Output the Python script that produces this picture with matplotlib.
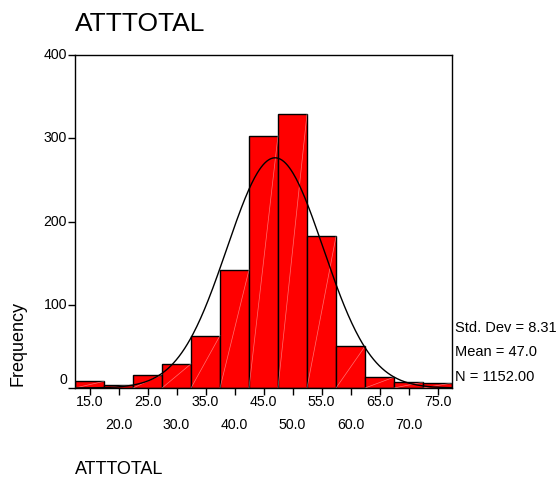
import matplotlib
matplotlib.use('Agg')
import matplotlib.pyplot as plt
import matplotlib.transforms as mtransforms
import numpy as np

plt.rcParams['font.family'] = ['Liberation Sans', 'DejaVu Sans']

# histogram bins (midpoints) and counts
bin_mids = [15, 20, 25, 30, 35, 40, 45, 50, 55, 60, 65, 70, 75]
counts = [8, 4, 16, 29, 63, 142, 303, 329, 182, 50, 13, 7, 6]
bin_width = 5.0

std_dev = 8.31
mean = 47.0
n_total = 1152

row1_ticks = [15, 25, 35, 45, 55, 65, 75]
row2_ticks = [20, 30, 40, 50, 60, 70]
y_ticks = [0, 100, 200, 300, 400]

W, H = 557, 479
fig = plt.figure(figsize=(W / 100, H / 100), dpi=100)
fig.patch.set_facecolor('white')
ax = fig.add_axes([75 / W, 1 - 388 / H, 377 / W, 333 / H])

ax.bar(bin_mids, counts, width=bin_width, color='#ff0000',
       edgecolor='black', linewidth=1.0, zorder=2)

# faint diagonal streaks seen in the original rendering
for m, c in zip(bin_mids, counts):
    ax.plot([m - bin_width / 2, m + bin_width / 2], [0, c],
            color='white', lw=0.5, alpha=0.45, zorder=3)

# normal curve from the reported statistics
xs = np.linspace(12.5, 77.5, 400)
ys = n_total * bin_width / (std_dev * np.sqrt(2 * np.pi)) * np.exp(-0.5 * ((xs - mean) / std_dev) ** 2)
ax.plot(xs, ys, color='black', lw=1.0, zorder=4)

ax.set_xlim(12.5, 77.5)
ax.set_ylim(0, 400)

for s in ax.spines.values():
    s.set_linewidth(1.0)

# y labels drawn by hand: the "0" sits a little above its tick
ax.set_yticks(y_ticks)
ax.set_yticklabels([])
ax.tick_params(axis='y', direction='out', length=5, width=1)
ytrans = mtransforms.blended_transform_factory(fig.transFigure, ax.transData)
for t in y_ticks:
    lab = ax.text(67 / W, t, str(t), ha='right', va='center', fontsize=10.2, transform=ytrans)
    if t == 0:
        lab.set_transform(ytrans + mtransforms.ScaledTranslation(0, 8 / 100, fig.dpi_scale_trans))

ax.set_xticks(sorted(row1_ticks + row2_ticks))
ax.set_xticklabels([])
ax.tick_params(axis='x', direction='out', length=5, width=1)

# two staggered rows of x labels
trans = mtransforms.blended_transform_factory(ax.transData, fig.transFigure)
for t in row1_ticks:
    ax.text(t, 1 - 402 / H, f'{t:.1f}', ha='center', va='center', fontsize=10.2, transform=trans)
for t in row2_ticks:
    ax.text(t, 1 - 425 / H, f'{t:.1f}', ha='center', va='center', fontsize=10.2, transform=trans)

# stats block on the right
fig.text(455 / W, 1 - 328 / H, f'Std. Dev = {std_dev:.2f}', fontsize=10.5, va='center', ha='left')
fig.text(455 / W, 1 - 352 / H, f'Mean = {mean:.1f}', fontsize=10.5, va='center', ha='left')
fig.text(455 / W, 1 - 377 / H, f'N = {n_total:.2f}', fontsize=10.5, va='center', ha='left')

fig.text(75 / W, 1 - 24 / H, 'ATTTOTAL', fontsize=19, va='center', ha='left')
fig.text(18 / W, 1 - 343 / H, 'Frequency', fontsize=13, rotation=90, va='center', ha='center')
fig.text(75 / W, 1 - 470 / H, 'ATTTOTAL', fontsize=13, va='center', ha='left')

fig.savefig('out.png', dpi=100, facecolor='white')
